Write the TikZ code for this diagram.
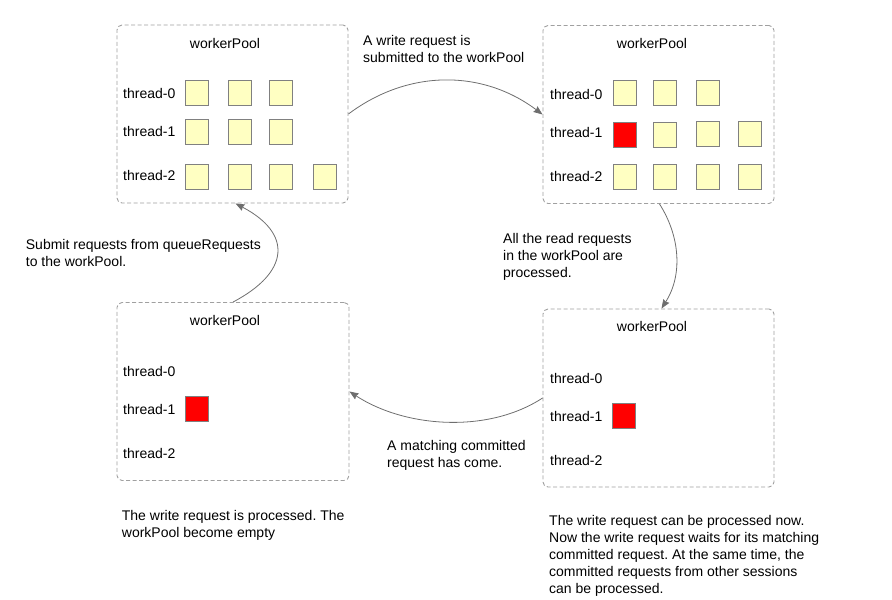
\documentclass[tikz,border=0pt]{standalone}
\usepackage{fontspec}
\setmainfont{Liberation Sans}
\usetikzlibrary{arrows.meta}
\definecolor{boxgray}{RGB}{160,160,160}
\definecolor{arrgray}{RGB}{110,110,110}
\definecolor{sqfill}{RGB}{255,255,194}
\definecolor{sqedge}{RGB}{128,128,128}
\definecolor{reqred}{RGB}{255,0,0}
\frenchspacing
\begin{document}
\begin{tikzpicture}[x=1pt,y=-1pt,
  every node/.style={font=\fontsize{14}{16.9}\selectfont},
  pool/.style={draw=boxgray, dash pattern=on 4pt off 2.5pt, rounded corners=5pt, line width=0.9pt, minimum width=231pt, minimum height=178pt, inner sep=0},
  title/.style={anchor=base, inner sep=0},
  thr/.style={anchor=base west, inner sep=0},
  rq/.style={draw=sqedge, fill=sqfill, minimum width=23pt, minimum height=25pt, inner sep=0, line width=0.8pt},
  wrq/.style={rq, fill=reqred},
  lbl/.style={anchor=north west, align=left, inner sep=0},
  flow/.style={draw=arrgray, line width=0.8pt, -{Stealth[length=9pt,width=7pt,inset=1pt]}}
]
\useasboundingbox (0,0) rectangle (892,600);

% boxes
\node[pool] (tl) at (232.5,114) {};
\node[pool] (tr) at (658.5,114.5) {};
\node[pool] (br) at (658.5,398) {};
\node[pool, minimum width=232pt] (bl) at (233,391.5) {};

% titles
\node[title] (tlt) at (225,48.5) {workerPool};
\node[title] (trt) at (652,48.5) {workerPool};
\node[title] (brt) at (652,331.5) {workerPool};
\node[title] (blt) at (225,325) {workerPool};

% thread labels
\node[thr] (tl0) at (123,98.3) {thread-0};
\node[thr] (tl1) at (123,136.7) {thread-1};
\node[thr] (tl2) at (123,180.7) {thread-2};
\node[thr] (tr0) at (550,99) {thread-0};
\node[thr] (tr1) at (550,137) {thread-1};
\node[thr] (tr2) at (550,181) {thread-2};
\node[thr] (br0) at (550,383.3) {thread-0};
\node[thr] (br1) at (550,421.7) {thread-1};
\node[thr] (br2) at (550,465) {thread-2};
\node[thr] (bl0) at (123,376) {thread-0};
\node[thr] (bl1) at (123,414.3) {thread-1};
\node[thr] (bl2) at (123,458.3) {thread-2};

% top-left squares
\node[rq] (a00) at (197,93.2) {};
\node[rq] (a01) at (239.5,93.2) {};
\node[rq] (a02) at (281.3,93.2) {};
\node[rq] (a10) at (197,132) {};
\node[rq] (a11) at (239.5,132) {};
\node[rq] (a12) at (281.3,132) {};
\node[rq] (a20) at (197,176.8) {};
\node[rq] (a21) at (239.5,176.8) {};
\node[rq] (a22) at (281.3,176.8) {};
\node[rq] (a23) at (324.5,176.8) {};

% top-right squares
\node[rq] (b00) at (624.5,93.2) {};
\node[rq] (b01) at (665.3,93.2) {};
\node[rq] (b02) at (708.3,93.2) {};
\node[wrq] (b10) at (624.5,135) {};
\node[rq] (b11) at (665.3,135.3) {};
\node[rq] (b12) at (708.3,133.7) {};
\node[rq] (b13) at (750.3,133.7) {};
\node[rq] (b20) at (624.5,176.8) {};
\node[rq] (b21) at (665.3,176.8) {};
\node[rq] (b22) at (708.3,176.8) {};
\node[rq] (b23) at (750.3,176.8) {};

% bottom squares
\node[wrq] (c10) at (623.5,415.5) {};
\node[wrq] (d10) at (196.5,408.5) {};

% connectors
\draw[flow] (tl.east) .. controls +(60,-45) and +(-60,-45) .. (tr.west);
\draw[flow] ([xshift=1pt]tr.south) .. controls +(21,33) and +(21,-33) .. ([xshift=3pt]br.north);
\draw[flow] (br.west) .. controls +(-55,36) and +(55,36) .. (bl.east);
\draw[flow] (bl.north) .. controls +(57,-30) and +(57,30) .. ([xshift=3pt]tl.south);

% labels
\node[lbl] (l1) at (363,35) {A write request is\\submitted to the workPool};
\node[lbl] (l2) at (503,233) {All the read requests\\in the workPool are\\processed.};
\node[lbl] (l3) at (387,440.5) {A matching committed\\request has come.};
\node[lbl] (l4) at (25.7,239.5) {Submit requests from queueRequests\\to the workPool.};
\node[lbl] (l5) at (121.7,510) {The write request is processed. The\\workPool become empty};
\node[lbl] (l6) at (549,515.5) {The write request can be processed now.\\Now the write request waits for its matching\\committed request. At the same time, the\\committed requests from other sessions\\can be processed.};
\end{tikzpicture}
\end{document}
